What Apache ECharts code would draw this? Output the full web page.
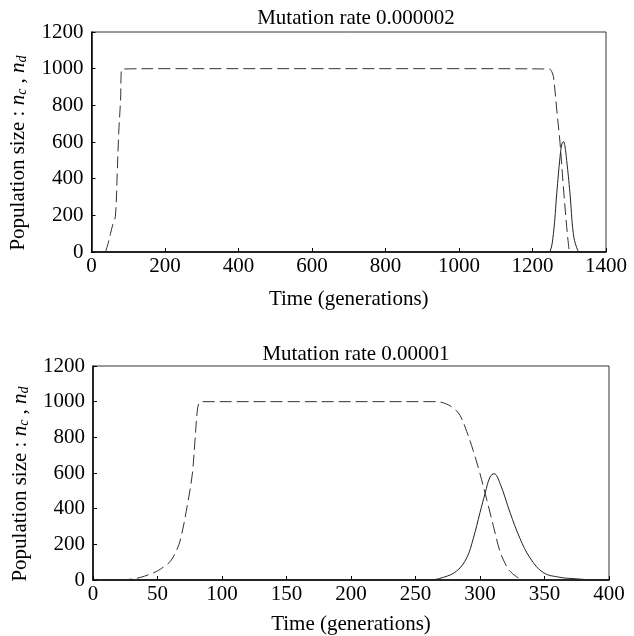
<!DOCTYPE html>
<html>
<head>
<meta charset="utf-8">
<script src="https://cdn.jsdelivr.net/npm/echarts@6/dist/echarts.min.js"></script>
<style>
html,body{margin:0;padding:0;background:#fff;}
#chart{width:634px;height:636px;}
</style>
</head>
<body>
<div id="chart"></div>
<script>
// ---- Data ----
var titles = ['Mutation rate 0.000002', 'Mutation rate 0.00001'];
var xLabel = 'Time (generations)';

// Top panel (mutation rate 0.000002)
var topDashT = [38, 45, 52, 58, 65, 70, 74, 79, 81, 83, 200, 600, 1000, 1246, 1252, 1257, 1266, 1275, 1284, 1293, 1300];
var topDashV = [0, 45, 103, 150, 194, 430, 647, 828, 991, 998, 1000, 1000, 1000, 998, 985, 956, 775, 593, 356, 138, 0];
var topSolidT = [0, 1240, 1248, 1257, 1266, 1275, 1280, 1284, 1288, 1293, 1302, 1311, 1320, 1329, 1340];
var topSolidV = [0, 0, 5, 102, 320, 520, 590, 602, 580, 500, 320, 102, 25, 0, 0];

// Bottom panel (mutation rate 0.00001)
var botDashT = [21, 30, 37, 45, 50, 55, 60, 65, 68, 73, 77, 79, 81, 82.5, 85, 150, 266, 274, 280, 284.5, 289.7, 294.8, 300, 305.2, 310.3, 315.5, 320, 323, 328, 332, 340];
var botDashV = [0, 5, 15, 35, 51, 75, 105, 170, 232, 414, 595, 777, 958, 995, 1000, 1000, 1000, 987, 960, 924, 833, 724, 596, 451, 305, 160, 85, 51, 20, 5, 0];
var botSolidT = [20, 260, 271.6, 282, 289.7, 294.8, 300, 304, 307.8, 310.9, 315.5, 323.3, 331, 338.8, 349, 362, 372, 386.6];
var botSolidV = [0, 0, 15, 51, 124, 233, 378, 487, 578, 596, 542, 378, 233, 124, 42, 15, 8, 0];

var topXMax = 1400, topXStep = 200;
var botXMax = 400, botXStep = 50;
var yMax = 1200, yStep = 200;

function pairs(t, v) { return t.map(function (x, i) { return [x, v[i]]; }); }

var FONT = '"Liberation Serif", "DejaVu Serif", serif';
var INK = '#000';
var FS = 21;

function plain(v) { return String(v); }

function xAxis(gi, max, step) {
  return {
    type: 'value', gridIndex: gi, min: 0, max: max, interval: step,
    name: xLabel, nameLocation: 'middle', nameGap: gi === 0 ? 37 : 34,
    nameTextStyle: { fontFamily: FONT, fontSize: FS, color: INK },
    axisLine: { show: true, lineStyle: { color: INK, width: 1.5 } },
    axisTick: { show: true, inside: true, length: 4, lineStyle: { color: INK } },
    axisLabel: { fontFamily: FONT, fontSize: FS, color: INK, margin: 4, formatter: plain },
    splitLine: { show: false }
  };
}
function yAxis(gi) {
  return {
    type: 'value', gridIndex: gi, min: 0, max: yMax, interval: yStep,
    name: 'Population size : {i|n}{s|c} , {i|n}{s|d}',
    nameLocation: 'middle', nameGap: 62, nameRotate: 90,
    nameTextStyle: {
      fontFamily: FONT, fontSize: FS, color: INK,
      padding: [0, 22, 0, 0],
      rich: {
        i: { fontFamily: FONT, fontSize: FS, fontStyle: 'italic', color: INK },
        s: { fontFamily: FONT, fontSize: 14, fontStyle: 'italic', color: INK, verticalAlign: 'bottom', padding: [8, 0, 0, 0] }
      }
    },
    axisLine: { show: true, lineStyle: { color: INK, width: 1.5 } },
    axisTick: { show: true, inside: true, length: 4, lineStyle: { color: INK } },
    axisLabel: { fontFamily: FONT, fontSize: FS, color: INK, margin: 8, formatter: plain },
    splitLine: { show: false }
  };
}
function dashSeries(gi, t, v) {
  return {
    type: 'line', xAxisIndex: gi, yAxisIndex: gi, data: pairs(t, v),
    showSymbol: false, smooth: 0.35,
    lineStyle: { color: '#333', width: 1, type: [12, 5] }, silent: true
  };
}
function solidSeries(gi, t, v) {
  return {
    type: 'line', xAxisIndex: gi, yAxisIndex: gi, data: pairs(t, v),
    showSymbol: false, smooth: 0.4,
    lineStyle: { color: '#222', width: 1, type: 'solid' }, silent: true
  };
}

var chart = echarts.init(document.getElementById('chart'), null, { renderer: 'canvas' });
chart.setOption({
  animation: false,
  backgroundColor: '#fff',
  title: [
    { text: titles[0], left: 351, top: 3, textAlign: 'center',
      textStyle: { fontFamily: FONT, fontSize: FS, fontWeight: 'normal', color: INK } },
    { text: titles[1], left: 351, top: 339, textAlign: 'center',
      textStyle: { fontFamily: FONT, fontSize: FS, fontWeight: 'normal', color: INK } }
  ],
  grid: [
    { left: 91, top: 32, width: 515, height: 220, show: true, borderColor: '#333', borderWidth: 1, backgroundColor: 'transparent' },
    { left: 93, top: 366, width: 516, height: 220, show: true, borderColor: '#333', borderWidth: 1, backgroundColor: 'transparent' }
  ],
  xAxis: [xAxis(0, topXMax, topXStep), xAxis(1, botXMax, botXStep)],
  yAxis: [yAxis(0), yAxis(1)],
  series: [
    dashSeries(0, topDashT, topDashV),
    solidSeries(0, topSolidT, topSolidV),
    dashSeries(1, botDashT, botDashV),
    solidSeries(1, botSolidT, botSolidV)
  ]
});
</script>
</body>
</html>
